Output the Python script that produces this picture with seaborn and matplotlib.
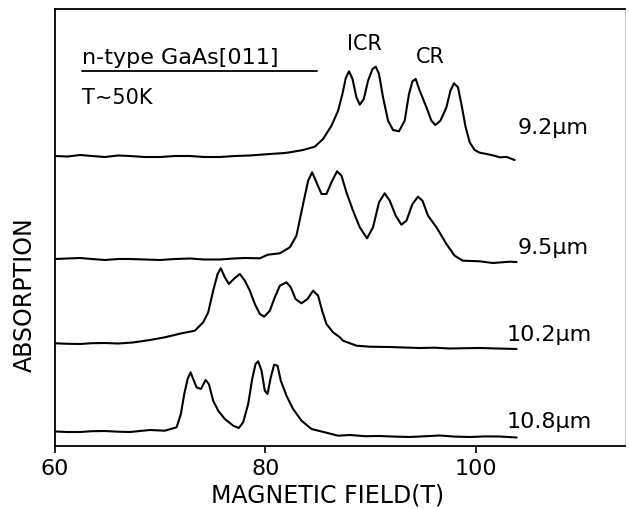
import matplotlib
matplotlib.use("Agg")
import matplotlib.pyplot as plt
import seaborn as sns

# Magnetic field (T) and stacked absorption (arb. units) for each wavelength
field_92 = [60.0, 61.2, 62.38, 63.5, 64.75, 66.0, 67.13, 68.5, 69.98, 71.4,
            72.83, 74.2, 75.68, 77.1, 78.53, 80.43, 81.85, 82.33, 83.59, 84.70,
            85.49, 86.29, 86.92, 87.33, 87.65, 87.96, 88.29, 88.66, 88.98, 89.36,
            89.77, 90.19, 90.50, 90.81, 91.19, 91.67, 92.14, 92.71, 93.25, 93.66,
            93.99, 94.30, 94.68, 95.32, 95.79, 96.17, 96.65, 97.22, 97.60, 97.94,
            98.32, 98.64, 99.05, 99.43, 99.90, 100.38, 101.05, 101.7, 102.28,
            102.95, 103.71]
absorb_92 = [2.90, 2.895, 2.91, 2.90, 2.89, 2.905, 2.90, 2.89, 2.89, 2.90,
             2.90, 2.89, 2.89, 2.90, 2.905, 2.92, 2.93, 2.937, 2.96, 2.993,
             3.07, 3.203, 3.353, 3.52, 3.68, 3.747, 3.67, 3.487, 3.413, 3.47,
             3.653, 3.77, 3.793, 3.72, 3.487, 3.253, 3.16, 3.147, 3.253, 3.52,
             3.647, 3.67, 3.553, 3.387, 3.253, 3.21, 3.253, 3.387, 3.553, 3.627,
             3.587, 3.42, 3.187, 3.037, 2.96, 2.933, 2.92, 2.905, 2.887,
             2.89, 2.86]

field_95 = [60.0, 61.2, 62.38, 63.5, 64.75, 66.0, 67.13, 68.5, 69.98, 71.4,
            72.83, 74.2, 75.68, 77.0, 78.05, 79.48, 80.24, 81.38, 82.33, 82.96,
            83.59, 84.07, 84.45, 84.86, 85.34, 85.81, 86.29, 86.82, 87.24, 87.71,
            88.34, 88.98, 89.67, 90.24, 90.81, 91.35, 91.83, 92.40, 92.94, 93.42,
            93.99, 94.52, 94.94, 95.47, 96.27, 97.22, 98.00, 98.79, 100.38,
            101.64, 102.5, 103.23, 103.90]
absorb_95 = [1.87, 1.875, 1.88, 1.87, 1.86, 1.87, 1.87, 1.865, 1.86, 1.87,
             1.875, 1.865, 1.865, 1.875, 1.88, 1.877, 1.913, 1.927, 1.987, 2.103,
             2.42, 2.653, 2.737, 2.637, 2.52, 2.52, 2.637, 2.747, 2.703, 2.537,
             2.353, 2.187, 2.077, 2.187, 2.437, 2.527, 2.453, 2.303, 2.213, 2.253,
             2.42, 2.493, 2.453, 2.303, 2.187, 2.02, 1.903, 1.853, 1.847,
             1.83, 1.837, 1.843, 1.84]

field_102 = [60.0, 61.2, 62.38, 63.5, 64.75, 66.0, 67.41, 69.03, 70.45, 72.04,
             73.30, 74.09, 74.57, 75.04, 75.46, 75.77, 76.15, 76.53, 77.10, 77.58,
             78.05, 78.53, 79.00, 79.48, 79.89, 80.43, 80.90, 81.38, 82.01, 82.42,
             82.87, 83.44, 84.01, 84.54, 85.02, 85.40, 85.81, 86.44, 87.08, 87.39,
             88.67, 89.93, 91.83, 93.2, 94.68, 96.1, 97.53, 99.0, 100.38, 102.1,
             103.90]
absorb_102 = [1.027, 1.022, 1.02, 1.028, 1.03, 1.025, 1.035, 1.06, 1.087, 1.127,
              1.153, 1.237, 1.337, 1.553, 1.72, 1.777, 1.687, 1.62, 1.68, 1.72,
              1.653, 1.553, 1.42, 1.32, 1.293, 1.353, 1.487, 1.603, 1.637, 1.587,
              1.47, 1.427, 1.47, 1.553, 1.503, 1.353, 1.22, 1.137, 1.087, 1.053,
              1.003, 0.993, 0.99, 0.985, 0.98, 0.983, 0.975, 0.978, 0.98, 0.975,
              0.97]

field_108 = [60.0, 61.2, 62.38, 63.5, 64.75, 66.0, 67.13, 69.03, 70.45, 71.56,
             71.97, 72.29, 72.61, 72.89, 73.14, 73.46, 73.87, 74.32, 74.63, 75.04,
             75.52, 76.15, 76.94, 77.48, 77.89, 78.37, 78.75, 79.07, 79.32, 79.64,
             79.95, 80.21, 80.52, 80.84, 81.16, 81.47, 82.01, 82.64, 83.44, 84.39,
             85.65, 86.92, 88.03, 89.5, 90.88, 92.3, 93.73, 95.1, 96.58, 98.0,
             99.43, 100.9, 102.28, 103.90]
absorb_108 = [0.145, 0.14, 0.14, 0.148, 0.15, 0.143, 0.14, 0.16, 0.153, 0.187,
              0.32, 0.52, 0.67, 0.737, 0.67, 0.587, 0.57, 0.66, 0.62, 0.453,
              0.353, 0.27, 0.203, 0.18, 0.237, 0.42, 0.67, 0.82, 0.847, 0.753,
              0.553, 0.52, 0.687, 0.813, 0.803, 0.653, 0.503, 0.37, 0.253, 0.17,
              0.137, 0.103, 0.11, 0.098, 0.10, 0.094, 0.09, 0.097, 0.105, 0.094,
              0.09, 0.096, 0.095, 0.085]

wavelength_labels = ["9.2\u00b5m", "9.5\u00b5m", "10.2\u00b5m", "10.8\u00b5m"]
xticks = [60, 80, 100]

sns.set_style("white")
plt.rcParams["font.family"] = ["DejaVu Sans"]
plt.rcParams["text.color"] = "black"
plt.rcParams["axes.labelcolor"] = "black"
plt.rcParams["xtick.color"] = "black"

fig = plt.figure(figsize=(6.29, 5.10), dpi=100)
ax = fig.add_axes([55 / 629, 63 / 510, 570 / 629, 437 / 510])

curves = [(field_92, absorb_92), (field_95, absorb_95),
          (field_102, absorb_102), (field_108, absorb_108)]
for fx, ay in curves:
    sns.lineplot(x=fx, y=ay, color="black", linewidth=1.5, estimator=None,
                 sort=False, ax=ax)

ax.set_xlim(60, 114.2)
ax.set_ylim(0, 4.37)
ax.set_xticks(xticks)
ax.set_xticklabels([str(t) for t in xticks], fontsize=16)
ax.set_yticks([])
ax.tick_params(axis="x", direction="out", length=5, width=1.2, pad=4,
               bottom=True, colors="black")

for side in ["left", "bottom", "top"]:
    ax.spines[side].set_color("black")
    ax.spines[side].set_linewidth(1.3)
ax.spines["right"].set_color("#d0d0d0")
ax.spines["right"].set_linewidth(0.8)

ax.set_xlabel("MAGNETIC FIELD(T)", fontsize=17)
ax.xaxis.set_label_coords(0.478, -0.11)
ax.xaxis.label.set_verticalalignment("center")
ax.set_ylabel("ABSORPTION", fontsize=17)
ax.yaxis.set_label_coords(-0.053, 0.348)
ax.yaxis.label.set_verticalalignment("center")

# Wavelength tags at the right end of each trace
label_pos = [(104.0, 3.19), (104.0, 1.99), (102.9, 1.12), (102.9, 0.25)]
for (lx, ly), txt in zip(label_pos, wavelength_labels):
    ax.text(lx, ly, txt, fontsize=16, ha="left", va="center")

# Sample annotation and resonance labels
ax.text(62.55, 3.89, "n-type GaAs[011]", fontsize=16, ha="left", va="center")
ax.plot([62.55, 84.95], [3.75, 3.75], color="black", linewidth=1.3)
ax.text(62.55, 3.49, "T~50K", fontsize=15, ha="left", va="center")
ax.text(89.45, 4.03, "ICR", fontsize=15, ha="center", va="center")
ax.text(95.72, 3.90, "CR", fontsize=15, ha="center", va="center")

fig.savefig("out.png", dpi=100)
